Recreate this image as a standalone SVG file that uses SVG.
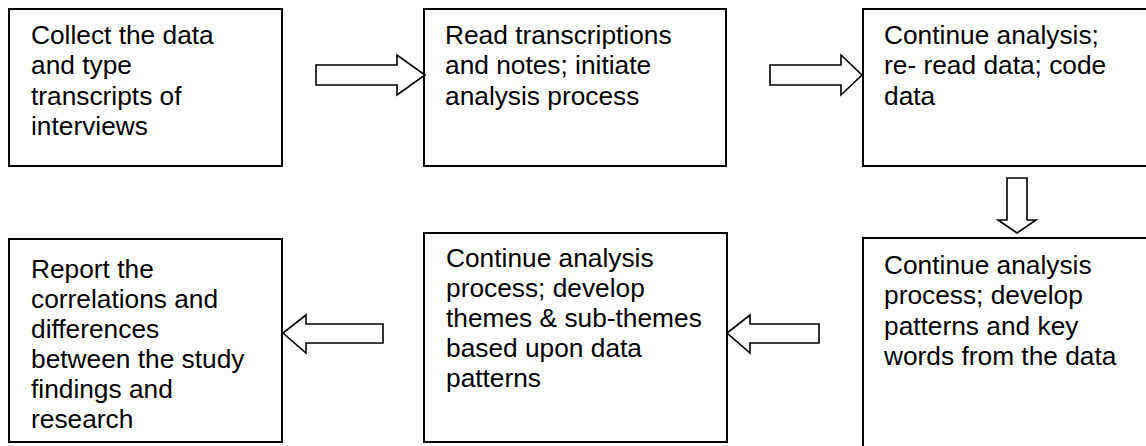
<svg xmlns="http://www.w3.org/2000/svg" width="1146" height="446" viewBox="0 0 1146 446">
<style>
.box{fill:#fff;stroke:#000;stroke-width:2}
.arr{fill:#fff;stroke:#000;stroke-width:1.6;stroke-linejoin:miter}
text{font-family:"Liberation Sans",Arial,sans-serif;font-size:26.3px;fill:#000}
</style>
<rect width="1146" height="446" fill="#fff"/>
<g id="n1"><rect class="box" x="9" y="9" width="273" height="157"/>
<text><tspan x="31" y="44">Collect the data</tspan><tspan x="31" y="74.3">and type</tspan><tspan x="31" y="104.6">transcripts of</tspan><tspan x="31" y="135">interviews</tspan></text></g>
<g id="n2"><rect class="box" x="424" y="9" width="302" height="157"/>
<text><tspan x="445" y="44">Read transcriptions</tspan><tspan x="445" y="74.3">and notes; initiate</tspan><tspan x="445" y="104.6">analysis process</tspan></text></g>
<g id="n3"><rect class="box" x="863" y="9" width="300" height="157"/>
<text><tspan x="884" y="44">Continue analysis;</tspan><tspan x="884" y="74.3">re- read data; code</tspan><tspan x="884" y="104.6">data</tspan></text></g>
<g id="n4"><rect class="box" x="863" y="238" width="300" height="220"/>
<text><tspan x="884" y="274">Continue analysis</tspan><tspan x="884" y="304.3">process; develop</tspan><tspan x="884" y="334.6">patterns and key</tspan><tspan x="884" y="365">words from the data</tspan></text></g>
<g id="n5"><rect class="box" x="424" y="233" width="303" height="209"/>
<text><tspan x="446" y="267">Continue analysis</tspan><tspan x="446" y="297">process; develop</tspan><tspan x="446" y="327">themes &amp; sub-themes</tspan><tspan x="446" y="357">based upon data</tspan><tspan x="446" y="387">patterns</tspan></text></g>
<g id="n6"><rect class="box" x="9" y="239" width="273" height="203"/>
<text><tspan x="31" y="278">Report the</tspan><tspan x="31" y="308">correlations and</tspan><tspan x="31" y="338">differences</tspan><tspan x="31" y="368">between the study</tspan><tspan x="31" y="398">findings and</tspan><tspan x="31" y="428">research</tspan></text></g>
<g id="connectors">
<polygon class="arr" points="316,65 397,65 397,55 425,75 397,95 397,85 316,85"/>
<polygon class="arr" points="770,65 841,65 841,55 862,75 841,95 841,85 770,85"/>
<polygon class="arr" points="1007,178 1027,178 1027,220 1036,220 1017,233 998,220 1007,220"/>
<polygon class="arr" points="819,324 750,324 750,315 727,333 750,353 750,343 819,343"/>
<polygon class="arr" points="383,324 306,324 306,315 283,333 306,353 306,343 383,343"/>
</g>
</svg>
